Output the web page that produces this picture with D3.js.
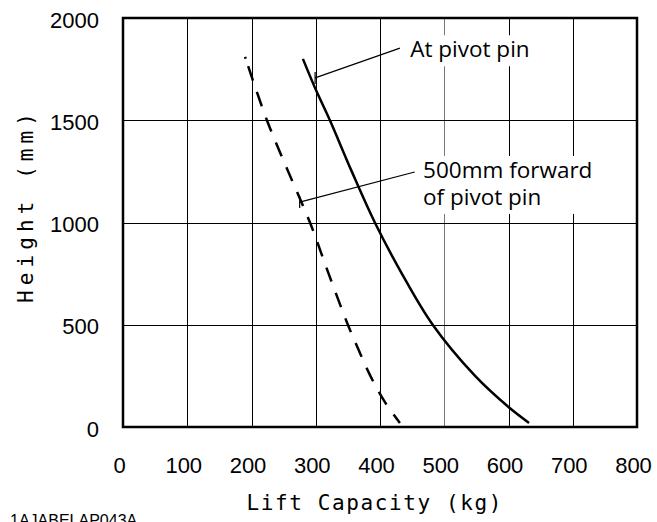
<!DOCTYPE html>
<html>
<head>
<meta charset="utf-8">
<script src="https://cdn.jsdelivr.net/npm/d3@7"></script>
<style>
  html, body { margin: 0; padding: 0; background: #fff; }
  svg { display: block; }
</style>
</head>
<body>
<svg id="Vis" width="657" height="522"></svg>
<script>
/*
* DATA
*/

const xTicks = [0, 100, 200, 300, 400, 500, 600, 700, 800];
const yTicks = [0, 500, 1000, 1500, 2000];

// lift capacity (kg) vs height (mm)
const pivotPin = [
  [280, 1800], [300, 1650], [322, 1500], [356, 1250], [392, 1000],
  [434, 750], [482, 500], [548, 250], [600, 98], [632, 20]
];
const forwardPin = [
  [190, 1810], [224, 1500], [257, 1250], [291, 1000],
  [320, 750], [350, 500], [367, 375], [385, 250], [407, 125], [431, 20]
];

// leader lines: [curve point, label point] in data units
const labels = [
  { lines: ["At pivot pin"], at: [447, 1808], from: [431, 1853], to: [299, 1707] },
  { lines: ["500mm forward", "of pivot pin"], at: [467, 1218], from: [454, 1247], to: [275, 1100] }
];

/*
* SETUP
*/

const svg = d3.select("svg#Vis");

const x = d3.scaleLinear().domain([0, 800]).range([123, 637]);
const y = d3.scaleLinear().domain([0, 2000]).range([427, 18]);

const g = {
  grid: svg.append("g"),
  notes: svg.append("g"),
  lines: svg.append("g"),
  axes: svg.append("g")
};

/* Grid */
g.grid.selectAll("line.v")
  .data(xTicks.slice(1, -1))
  .join("line")
    .attr("x1", d => Math.round(x(d)) + 0.5)
    .attr("x2", d => Math.round(x(d)) + 0.5)
    .attr("y1", y(2000))
    .attr("y2", y(0))
    .attr("stroke", d => d === 500 ? "#777" : "#000")
    .attr("stroke-width", 1);

g.grid.selectAll("line.h")
  .data(yTicks.slice(1, -1))
  .join("line")
    .attr("x1", x(0))
    .attr("x2", x(800))
    .attr("y1", d => Math.round(y(d)) + 0.5)
    .attr("y2", d => Math.round(y(d)) + 0.5)
    .attr("stroke", "#000")
    .attr("stroke-width", 1);

/* Frame */
g.axes.append("rect")
  .attr("x", x(0))
  .attr("y", y(2000))
  .attr("width", x(800) - x(0))
  .attr("height", y(0) - y(2000))
  .attr("fill", "none")
  .attr("stroke", "#000")
  .attr("stroke-width", 2.5);

/* Curves */
const line = d3.line()
  .x(d => x(d[0]))
  .y(d => y(d[1]))
  .curve(d3.curveCatmullRom.alpha(0.5));

g.lines.append("path")
  .datum(pivotPin)
  .attr("d", line)
  .attr("fill", "none")
  .attr("stroke", "#000")
  .attr("stroke-width", 2.5);

g.lines.append("path")
  .datum(forwardPin)
  .attr("d", line)
  .attr("fill", "none")
  .attr("stroke", "#000")
  .attr("stroke-width", 2.5)
  .attr("stroke-dasharray", "2,8" + ",15,12".repeat(20));

/* Leader lines and labels */
labels.forEach(function(l) {
  const box = g.notes.append("rect").attr("fill", "#fff");

  const t = g.notes.append("text")
    .attr("x", x(l.at[0]))
    .attr("y", y(l.at[1]))
    .style("font-family", "'Open Sans', 'Noto Sans', sans-serif")
    .style("font-size", "22.5px")
    .attr("fill", "#000");
  t.selectAll("tspan")
    .data(l.lines)
    .join("tspan")
      .attr("x", x(l.at[0]))
      .attr("dy", (d, i) => i === 0 ? 0 : 27)
      .text(d => d);

  const bb = t.node().getBBox();
  box.attr("x", bb.x - 2).attr("y", bb.y + 2)
    .attr("width", bb.width + 4).attr("height", bb.height);

  g.notes.append("line")
    .attr("x1", x(l.from[0])).attr("y1", y(l.from[1]))
    .attr("x2", x(l.to[0])).attr("y2", y(l.to[1]))
    .attr("stroke", "#000")
    .attr("stroke-width", 1.2);
  g.notes.append("line")
    .attr("x1", x(l.to[0])).attr("y1", y(l.to[1]) - 6)
    .attr("x2", x(l.to[0])).attr("y2", y(l.to[1]) + 6)
    .attr("stroke", "#000")
    .attr("stroke-width", 1.2);
});

/* Axes (labels only) */
const xAxis = d3.axisBottom(x).tickValues(xTicks).tickFormat(d3.format("d"))
  .tickSize(0).tickPadding(30);
const yAxis = d3.axisLeft(y).tickValues(yTicks).tickFormat(d3.format("d"))
  .tickSize(0).tickPadding(24);

const gx = g.axes.append("g").attr("transform", translate(-4, y(0))).call(xAxis);
const gy = g.axes.append("g").attr("transform", translate(x(0), 2)).call(yAxis);

[gx, gy].forEach(function(a) {
  a.select(".domain").remove();
  a.selectAll("text")
    .style("font-family", "'Liberation Sans', Arial, sans-serif")
    .style("font-size", "22px")
    .attr("fill", "#000");
});

/* Axis titles */
svg.append("text")
  .attr("x", 374)
  .attr("y", 510)
  .attr("text-anchor", "middle")
  .attr("textLength", 255)
  .style("font-family", "'DejaVu Sans Mono', monospace")
  .style("font-size", "21px")
  .text("Lift Capacity (kg)");

svg.append("text")
  .attr("transform", translate(33, 208) + " rotate(-90)")
  .attr("text-anchor", "middle")
  .attr("textLength", 190)
  .style("font-family", "'DejaVu Sans Mono', monospace")
  .style("font-size", "21px")
  .text("Height (mm)");

/* Figure code */
svg.append("text")
  .attr("x", 10)
  .attr("y", 526)
  .style("font-family", "'Liberation Sans', Arial, sans-serif")
  .style("font-size", "16px")
  .text("1AJABELAP043A");

/*
* HELPER FUNCTIONS
*/
function translate(x, y) {
  return 'translate(' + String(x) + ',' + String(y) + ')';
}
</script>
</body>
</html>
